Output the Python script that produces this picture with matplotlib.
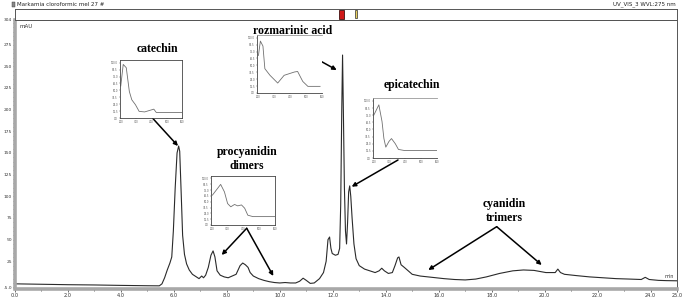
import numpy as np
import matplotlib
matplotlib.use('Agg')
import matplotlib.pyplot as plt
from matplotlib.patches import Rectangle
from matplotlib.ticker import MultipleLocator

W, H = 685, 299

# chromatogram, UV 275 nm: retention time (min) / absorbance (mAU)
rt = [0.0, 1.0, 2.0, 3.0, 4.0, 5.0, 5.45, 5.55, 5.65, 5.75, 5.85, 5.92, 5.98,
      6.05, 6.12, 6.18, 6.22, 6.28, 6.33, 6.4, 6.48, 6.58, 6.7, 6.85, 6.95,
      7.05, 7.12, 7.2, 7.3, 7.4, 7.48, 7.55, 7.63, 7.75, 7.9, 8.05, 8.2, 8.35,
      8.5, 8.6, 8.7, 8.8, 8.88, 9.0, 9.2, 9.4, 9.6, 9.8, 10.0, 10.2, 10.4,
      10.6, 10.75, 10.88, 11.0, 11.15, 11.3, 11.5, 11.65, 11.75, 11.82, 11.88,
      11.93, 11.98, 12.1, 12.2, 12.26, 12.3, 12.34, 12.37, 12.4, 12.44, 12.48,
      12.52, 12.56, 12.6, 12.64, 12.68, 12.73, 12.8, 12.88, 13.0, 13.2, 13.4,
      13.6, 13.75, 13.85, 13.95, 14.1, 14.25, 14.35, 14.45, 14.5, 14.58, 14.7,
      14.85, 15.0, 15.3, 15.75, 16.2, 16.6, 17.0, 17.4, 17.8, 18.3, 18.8, 19.2,
      19.6, 20.05, 20.4, 20.5, 20.6, 20.75, 21.2, 21.7, 22.2, 22.7, 23.2,
      23.65, 23.8, 23.95, 24.3, 24.6, 25.0]
mau = [-1.0, -1.5, -2.0, -2.3, -2.8, -3.2, -3.3, -1.0, 6, 15, 23, 30, 60,
       110, 150, 158, 152, 100, 55, 33, 22, 15, 10, 7, 5,
       8, 6, 9, 18, 32, 37, 30, 14, 9, 7, 6, 8, 10,
       20, 23, 21, 18, 12, 8, 5, 3, 1.5, 0.5, 0, 0.5, 0,
       0, 2, 5.5, 3, -0.5, 0, 5, 12, 25, 50, 53,
       40, 34, 32, 33, 40, 90, 200, 263, 200, 110, 60,
       45, 70, 105, 112, 100, 75, 45, 28, 20, 16, 14,
       12, 14, 17, 14, 11, 12, 20, 29, 30, 21, 18,
       14, 10, 8, 6.5, 5, 4, 3.5, 4.5, 7, 11, 14, 15,
       14.5, 12, 12, 16, 12, 10, 8.5, 7, 6, 5, 4.5,
       4, 6.5, 4, 3, 2.7, 2.5]

# UV spectra shown in the insets: wavelength (nm) / relative absorbance
cat_wl = [200, 216, 236, 256, 272, 296, 320, 356, 392, 416, 432, 600]
cat_ab = [58, 97, 91, 48, 33, 24, 12, 11, 14, 16, 10, 10]
roz_wl = [204, 216, 232, 244, 276, 324, 364, 428, 448, 480, 512, 588]
roz_ab = [68, 94, 85, 44, 32, 18, 32, 38, 39, 21, 12, 12]
epi_wl = [200, 232, 252, 264, 276, 296, 312, 336, 356, 396, 600]
epi_ab = [75, 93, 64, 34, 19, 29, 34, 25, 15, 13, 13]
pro_wl = [204, 256, 280, 300, 320, 344, 364, 388, 408, 428, 460, 600]
pro_ab = [64, 87, 71, 46, 39, 44, 41, 43, 36, 21, 18, 18]

y_ticks = [-5, 25, 50, 75, 100, 125, 150, 175, 200, 225, 250, 275, 304]
y_labels = ['-5.0', '25', '50', '75', '100', '125', '150', '175', '200',
            '225', '250', '275', '304']
x_ticks = [0, 2, 4, 6, 8, 10, 12, 14, 16, 18, 20, 22, 24, 25]

LABEL_FONT = dict(family='Liberation Serif', fontweight='bold', fontsize=8.5,
                  ha='center', va='center', color='black')


def px_box(x0, y0, x1, y1):
    """Pixel box (top-left origin) -> figure fraction rect."""
    return [x0 / W, 1 - y1 / H, (x1 - x0) / W, (y1 - y0) / H]


def to_data(x, y):
    """Pixel position on the main chart -> (min, mAU)."""
    return ((x - 15) / (662 / 25), (283 - y) / 0.8668)


def arrow(ax, start, end):
    ax.annotate('', xy=to_data(*end), xytext=to_data(*start),
                arrowprops=dict(arrowstyle='-|>', color='black', lw=1.1,
                                mutation_scale=6, shrinkA=0, shrinkB=0))


def inset(fig, box, wl, ab, boxed=True):
    a = fig.add_axes(px_box(*box))
    a.plot(wl, ab, color='#707070', lw=0.6)
    a.set_xlim(195, 600)
    a.set_ylim(0, 105)
    a.xaxis.set_major_locator(MultipleLocator(100))
    a.yaxis.set_major_locator(MultipleLocator(12.5))
    a.tick_params(labelsize=1.8, length=1, width=0.3, pad=0.5, colors='#555')
    for s in a.spines.values():
        s.set_linewidth(0.6)
        s.set_color('#444')
    if not boxed:
        a.spines['right'].set_visible(False)
        a.spines['top'].set_color('#999')
    a.set_facecolor('white')
    return a


fig = plt.figure(figsize=(W / 100, H / 100), dpi=100)

# main chromatogram
ax = fig.add_axes(px_box(15, 19.5, 677, 287.3))
ax.plot(rt, mau, color='#2a2a2a', lw=0.8)
ax.set_xlim(0, 25)
ax.set_ylim(-5, 304)
ax.set_xticks(x_ticks)
ax.set_xticklabels([f'{t:.1f}' for t in x_ticks])
ax.xaxis.set_minor_locator(MultipleLocator(1))
ax.set_yticks(y_ticks)
ax.set_yticklabels(y_labels)
ax.yaxis.set_minor_locator(MultipleLocator(5))
ax.tick_params(labelsize=3.6, length=2, width=0.5, pad=0.8, colors='#333')
ax.tick_params(axis='y', labelsize=3.2, length=1.5, pad=0.5)
ax.tick_params(which='minor', length=1.2, width=0.4)
ax.spines['bottom'].set_position(('outward', 1.5))
for side in ('bottom', 'left'):
    ax.spines[side].set_color('#a8a8a8')
    ax.spines[side].set_linewidth(2.6)
for side in ('top', 'right'):
    ax.spines[side].set_color('#555')
    ax.spines[side].set_linewidth(0.7)
ax.text(0.007, 0.985, 'mAU', transform=ax.transAxes, fontsize=4,
        va='top', color='#333')
ax.text(0.995, 0.03, 'min', transform=ax.transAxes, fontsize=3.5,
        ha='right', va='bottom', color='#333')

# compound labels
ax.text(*to_data(157, 49), 'catechin', **LABEL_FONT)
ax.text(*to_data(293, 31), 'rozmarinic acid', **LABEL_FONT)
ax.text(*to_data(412, 85), 'epicatechin', **LABEL_FONT)
ax.text(*to_data(247, 159), 'procyanidin\ndimers', linespacing=1.15, **LABEL_FONT)
ax.text(*to_data(504, 211), 'cyanidin\ntrimers', linespacing=1.15, **LABEL_FONT)

# arrows to the peaks
arrow(ax, (152.7, 118.3), (178, 146))
arrow(ax, (315, 58), (336.7, 70))
arrow(ax, (398, 160), (351.7, 186.7))
arrow(ax, (246.7, 228.3), (221.7, 255))
arrow(ax, (246.7, 228.3), (273.3, 276))
arrow(ax, (496.7, 226.7), (428.3, 270))
arrow(ax, (496.7, 226.7), (541.7, 265))

# spectrum insets
inset(fig, (120, 60, 182, 118), cat_wl, cat_ab)
inset(fig, (257, 35, 322, 93), roz_wl, roz_ab, boxed=False)
inset(fig, (373, 98, 437, 158), epi_wl, epi_ab, boxed=False)
inset(fig, (211, 176, 275, 225), pro_wl, pro_ab)

# overview strip above the chromatogram
top = fig.add_axes(px_box(15, 9, 677, 19.5))
top.set_xlim(0, 25)
top.set_ylim(0, 1)
top.set_xticks([])
top.set_yticks([])
for s in top.spines.values():
    s.set_linewidth(0.7)
    s.set_color('#555')
top.add_patch(Rectangle((12.25, 0.05), 0.18, 0.9, facecolor='#d01818',
                        edgecolor='#401010', lw=0.6))
top.add_patch(Rectangle((12.85, 0.1), 0.08, 0.8, facecolor='#e8d060',
                        edgecolor='#303030', lw=0.5))

fig.text(17 / W, 1 - 4.5 / H, 'Markamia cloroformic mel 27 #', fontsize=4,
         va='center', color='#222')
fig.add_artist(Rectangle((12 / W, 1 - 7 / H), 3 / W, 5 / H,
                         transform=fig.transFigure, facecolor='#888',
                         edgecolor='#333', lw=0.3))
fig.text(676 / W, 1 - 4.5 / H, 'UV_VIS_3 WVL:275 nm', fontsize=4,
         ha='right', va='center', color='#222')

fig.savefig('out.png', dpi=100, facecolor='white')
